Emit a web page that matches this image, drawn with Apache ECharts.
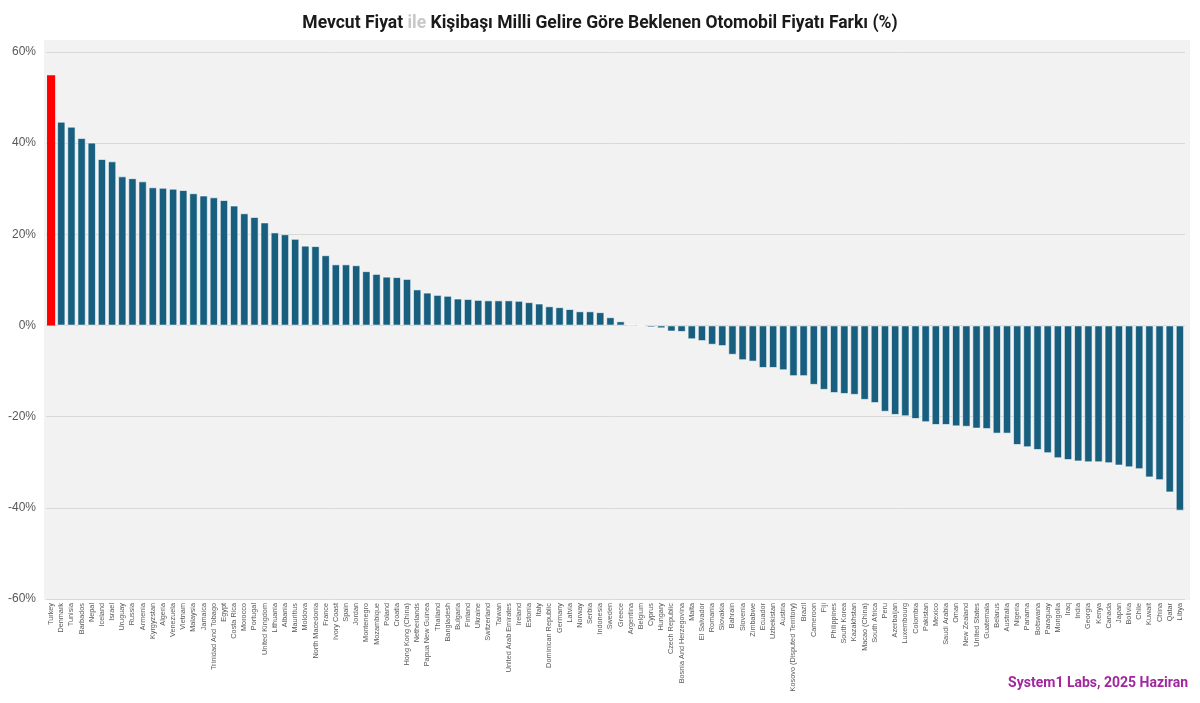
<!DOCTYPE html>
<html>
<head>
<meta charset="utf-8">
<script src="https://cdn.jsdelivr.net/npm/echarts@6/dist/echarts.min.js"></script>
<style>html,body{margin:0;padding:0;background:#fff}#c{width:1200px;height:703px}</style>
</head>
<body>
<div id="c"></div>
<script>
const countries = ["Turkey","Denmark","Tunisia","Barbados","Nepal","Iceland","Israel","Uruguay","Russia","Armenia","Kyrgyzstan","Algeria","Venezuela","Vietnam","Malaysia","Jamaica","Trinidad And Tobago","Egypt","Costa Rica","Morocco","Portugal","United Kingdom","Lithuania","Albania","Mauritius","Moldova","North Macedonia","France","Ivory Coast","Spain","Jordan","Montenegro","Mozambique","Poland","Croatia","Hong Kong (China)","Netherlands","Papua New Guinea","Thailand","Bangladesh","Bulgaria","Finland","Ukraine","Switzerland","Taiwan","United Arab Emirates","Ireland","Estonia","Italy","Dominican Republic","Germany","Latvia","Norway","Serbia","Indonesia","Sweden","Greece","Argentina","Belgium","Cyprus","Hungary","Czech Republic","Bosnia And Herzegovina","Malta","El Salvador","Romania","Slovakia","Bahrain","Slovenia","Zimbabwe","Ecuador","Uzbekistan","Austria","Kosovo (Disputed Territory)","Brazil","Cameroon","Fiji","Philippines","South Korea","Kazakhstan","Macao (China)","South Africa","Peru","Azerbaijan","Luxembourg","Colombia","Pakistan","Mexico","Saudi Arabia","Oman","New Zealand","United States","Guatemala","Belarus","Australia","Nigeria","Panama","Botswana","Paraguay","Mongolia","Iraq","India","Georgia","Kenya","Canada","Japan","Bolivia","Chile","Kuwait","China","Qatar","Libya"];
const priceGap = [54.9,44.7,43.6,41.1,40.1,36.5,36.0,32.7,32.3,31.6,30.3,30.2,30.0,29.7,29.0,28.5,28.1,27.5,26.3,24.6,23.8,22.6,20.4,20.0,19.0,17.5,17.4,15.4,13.4,13.4,13.2,11.9,11.3,10.7,10.6,10.2,7.9,7.2,6.7,6.5,5.9,5.8,5.6,5.5,5.5,5.5,5.4,5.1,4.8,4.2,4.0,3.6,3.1,3.1,2.9,1.8,0.9,0.2,0.05,-0.4,-0.6,-1.3,-1.4,-3.0,-3.4,-4.2,-4.5,-6.4,-7.6,-7.9,-9.3,-9.3,-9.8,-11.1,-11.1,-13.0,-14.1,-14.8,-15.0,-15.2,-16.3,-17.0,-18.9,-19.6,-19.9,-20.5,-21.2,-21.8,-21.8,-22.1,-22.2,-22.6,-22.7,-23.7,-23.7,-26.2,-26.7,-27.3,-28.0,-29.1,-29.5,-29.8,-30.0,-30.0,-30.2,-30.7,-31.1,-31.5,-33.3,-33.9,-36.6,-40.6];
const highlightCountry = "Turkey";
const yTicks = [-60,-40,-20,0,20,40,60];

const chart = echarts.init(document.getElementById('c'));
chart.setOption({
  animation: false,
  backgroundColor: '#ffffff',
  title: {
    text: '{a|Mevcut Fiyat }{b|ile}{a| Kişibaşı Milli Gelire Göre Beklenen Otomobil Fiyatı Farkı (%)}',
    left: 'center', top: 10,
    textStyle: {
      rich: {
        a: {fontFamily: 'Roboto', fontWeight: 'bold', fontSize: 17.5, color: '#1a1a1a'},
        b: {fontFamily: 'Roboto', fontWeight: 'bold', fontSize: 17.5, color: '#c8c8c8'}
      }
    }
  },
  graphic: [
    {type: 'rect', z: -10, shape: {x: 44, y: 40, width: 1146, height: 560}, style: {fill: '#f2f2f2'}},
    {type: 'text', right: 12, top: 676, style: {text: 'System1 Labs, 2025 Haziran', fill: '#a0279e', font: 'bold 14px Roboto'}}
  ],
  grid: {left: 46, right: 15, top: 52, bottom: 104},
  xAxis: {
    type: 'category',
    data: countries,
    axisLine: {show: false, onZero: false},
    axisTick: {show: false},
    axisLabel: {interval: 0, rotate: 90, fontSize: 7.3, color: '#595959', fontFamily: 'Liberation Sans', margin: 4}
  },
  yAxis: {
    type: 'value',
    min: yTicks[0], max: yTicks[yTicks.length-1], interval: 20,
    axisLabel: {formatter: '{value}%', color: '#595959', fontSize: 12, fontFamily: 'Liberation Sans', margin: 10},
    splitLine: {lineStyle: {color: '#d9d9d9', width: 1}},
    axisLine: {show: false}, axisTick: {show: false}
  },
  series: [{
    type: 'bar',
    data: priceGap.map((v, i) => ({
      value: v,
      itemStyle: countries[i] === highlightCountry ? {color: '#ff0000', borderWidth: 0} : undefined
    })),
    barCategoryGap: '20%',
    itemStyle: {color: '#175e7f', borderColor: 'rgba(255,255,255,0.75)', borderWidth: 0.8}
  }]
});
</script>
</body>
</html>
